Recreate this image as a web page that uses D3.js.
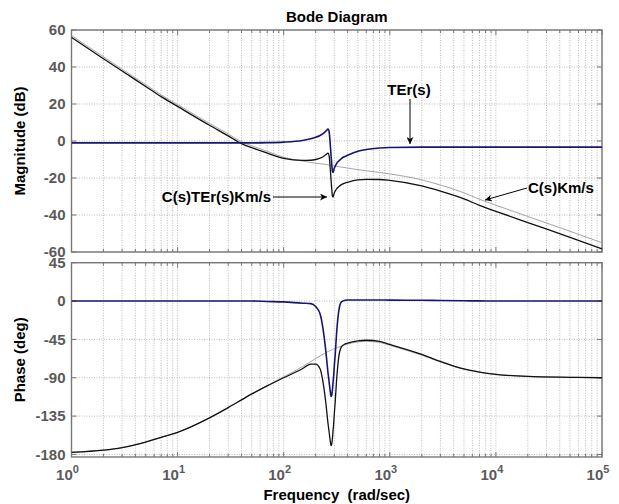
<!DOCTYPE html>
<html>
<head>
<meta charset="utf-8">
<script src="https://cdn.jsdelivr.net/npm/d3@7"></script>
<style>
  body { margin: 0; background: #fff; }
  text { font-family: "Liberation Sans", Arial, sans-serif; font-weight: bold; }
</style>
</head>
<body>
<script>
// frequency samples (rad/sec) shared by every series
var freq = [1, 2, 3, 5, 7, 10, 20, 30, 40, 50, 70, 100, 150, 180, 200, 220, 235, 250, 262, 268, 272, 276, 280, 284, 288, 292, 296, 300, 305, 315, 330, 350, 380, 400, 500, 600, 800, 1000, 2000, 3000, 5000, 7000, 10000, 20000, 50000, 100000];

// magnitude (dB)
var magCKm = [57, 45.5, 38.8, 30.5, 25, 19.7, 9.5, 3.8, -0.4, -2.6, -5.6, -8.8, -10.8, -11.6, -12, -12.3, -12.5, -12.7, -12.9, -13, -13.05, -13.1, -13.2, -13.25, -13.3, -13.35, -13.4, -13.5, -13.55, -13.7, -13.9, -14.1, -14.4, -14.6, -15.5, -16.1, -17, -17.8, -21, -23.8, -28, -31.5, -34.7, -40.8, -48.8, -55];
var magTEr = [-1, -1, -1, -1, -1, -1, -1, -1, -1, -1, -0.9, -0.6, 0.3, 1.2, 2, 3, 4, 5.3, 6.4, 5, 1.5, -3.5, -8.5, -13, -16.5, -17, -15.8, -14.6, -13.7, -12.2, -10.8, -9.5, -8.3, -7.7, -5.5, -4.6, -3.8, -3.5, -3.3, -3.3, -3.3, -3.3, -3.3, -3.3, -3.3, -3.3];
var magCTErKm = [56, 44.5, 37.8, 29.5, 24, 18.7, 8.5, 2.8, -1.4, -3.6, -6.5, -9.4, -10.5, -10.4, -10, -9.3, -8.5, -7.4, -6.5, -8, -11.55, -16.6, -21.7, -26.25, -29.8, -30.35, -29.2, -28.1, -27.25, -25.9, -24.7, -23.6, -22.7, -22.3, -21, -20.7, -20.8, -21.3, -24.3, -27.1, -31.3, -34.8, -38, -44.1, -52.1, -58.3];

// phase (deg)
var phCKm = [-177.5, -175, -172, -165.5, -160, -154, -137, -125, -116, -109, -99, -89, -77, -71, -67.5, -64.5, -62.5, -60.5, -59.3, -58.7, -58.3, -58, -57.6, -57.3, -57, -56.7, -56.4, -56, -55.6, -55, -54, -52.8, -51.3, -50.5, -48, -47.3, -48.5, -52, -63.5, -71.5, -80, -83.5, -86, -88.5, -89.5, -90];
var phTEr = [0, 0, 0, 0, 0, 0, 0, 0, 0, 0, -0.5, -1, -2.5, -3, -6.5, -15, -33, -60, -85, -95, -102, -108, -112, -110, -104, -95, -87, -76, -65, -38, -12, -1, 1, 1.2, 1.3, 1.3, 1.2, 1.1, 0.9, 0.6, 0.3, 0.2, 0, 0, 0, 0];
var phCTErKm = [-177.5, -175, -172, -165.5, -160, -154, -137, -125, -116, -109, -99.5, -90, -79.5, -74, -74, -79.5, -95.5, -120.5, -144.3, -153.7, -160.3, -166, -169.6, -167.3, -161, -151.7, -143.4, -132, -120.6, -93, -66, -53.8, -50.3, -49.3, -46.7, -46, -47.3, -50.9, -62.6, -70.9, -79.7, -83.3, -86, -88.5, -89.5, -90];

var magTicks = [-60, -40, -20, 0, 20, 40, 60];
var phaseTicks = [-180, -135, -90, -45, 0, 45];
var decades = [1, 10, 100, 1000, 10000, 100000];
var decadeExp = ["0", "1", "2", "3", "4", "5"];

var svgWidth = 619;
var svgHeight = 504;

var svg = d3.select("body")
  .append("svg")
  .attr("width", svgWidth)
  .attr("height", svgHeight);

var defs = svg.append("defs");
defs.append("marker")
  .attr("id", "arrow")
  .attr("viewBox", "0 0 10 10")
  .attr("refX", 10)
  .attr("refY", 5)
  .attr("markerWidth", 9)
  .attr("markerHeight", 7)
  .attr("markerUnits", "userSpaceOnUse")
  .attr("orient", "auto")
  .append("path")
  .attr("d", "M0,0 L10,5 L0,10 L3,5 Z")
  .attr("fill", "#000");

var xLeft = 71.5, xRight = 602;
var x = d3.scaleLog().domain([1, 1e5]).range([xLeft, xRight]);
var yMag = d3.scaleLinear().domain([-60, 60]).range([252, 30]);
var yPh = d3.scaleLinear().domain([-183, 45]).range([457, 262.7]);

var minorTicks = x.ticks(); // 1..9 per decade

function panel(id, y, ticks, top, bottom) {
  var g = svg.append("g");

  // grid
  g.selectAll(".vgrid")
    .data(minorTicks)
    .enter()
    .append("line")
    .attr("x1", function(d) { return x(d); })
    .attr("x2", function(d) { return x(d); })
    .attr("y1", top)
    .attr("y2", bottom)
    .attr("stroke", "#a8a8a8")
    .attr("stroke-width", 0.8)
    .attr("stroke-dasharray", "1,1.5");

  g.selectAll(".hgrid")
    .data(ticks)
    .enter()
    .append("line")
    .attr("x1", xLeft)
    .attr("x2", xRight)
    .attr("y1", function(d) { return y(d); })
    .attr("y2", function(d) { return y(d); })
    .attr("stroke", "#a8a8a8")
    .attr("stroke-width", 0.8)
    .attr("stroke-dasharray", "1,1.5");

  // inward ticks
  minorTicks.forEach(function(d) {
    var len = decades.indexOf(d) >= 0 ? 5 : 3;
    g.append("line").attr("x1", x(d)).attr("x2", x(d)).attr("y1", bottom).attr("y2", bottom - len)
      .attr("stroke", "#777").attr("stroke-width", 1);
    g.append("line").attr("x1", x(d)).attr("x2", x(d)).attr("y1", top).attr("y2", top + len)
      .attr("stroke", "#777").attr("stroke-width", 1);
  });
  ticks.forEach(function(d) {
    g.append("line").attr("x1", xLeft).attr("x2", xLeft + 5).attr("y1", y(d)).attr("y2", y(d))
      .attr("stroke", "#777").attr("stroke-width", 1);
    g.append("line").attr("x1", xRight).attr("x2", xRight - 5).attr("y1", y(d)).attr("y2", y(d))
      .attr("stroke", "#777").attr("stroke-width", 1);
  });

  // box
  g.append("rect")
    .attr("x", xLeft)
    .attr("y", top)
    .attr("width", xRight - xLeft)
    .attr("height", bottom - top)
    .attr("fill", "none")
    .attr("stroke", "#777")
    .attr("stroke-width", 1.4);

  // y tick labels
  g.selectAll(".ylab")
    .data(ticks)
    .enter()
    .append("text")
    .attr("x", xLeft - 6)
    .attr("y", function(d) { return y(d); })
    .attr("dy", "0.36em")
    .attr("text-anchor", "end")
    .attr("font-size", "15px")
    .attr("fill", "#5a5a5a")
    .text(function(d) { return d; });

  svg.append("clipPath")
    .attr("id", id)
    .append("rect")
    .attr("x", xLeft)
    .attr("y", top)
    .attr("width", xRight - xLeft)
    .attr("height", bottom - top);
}

panel("clipMag", yMag, magTicks, 30, 252);
panel("clipPh", yPh, phaseTicks, 262.7, 457);

function drawCurve(values, y, clip, color, width) {
  var line = d3.line()
    .x(function(d, i) { return x(freq[i]); })
    .y(function(d) { return y(d); })
    .curve(d3.curveMonotoneX);
  svg.append("path")
    .datum(values)
    .attr("d", line)
    .attr("clip-path", "url(#" + clip + ")")
    .attr("fill", "none")
    .attr("stroke", color)
    .attr("stroke-width", width);
}

drawCurve(magCKm, yMag, "clipMag", "#9a9a9a", 0.9);
drawCurve(magCTErKm, yMag, "clipMag", "#111", 1.3);
drawCurve(magTEr, yMag, "clipMag", "#16166e", 1.6);

drawCurve(phCKm, yPh, "clipPh", "#9a9a9a", 0.9);
drawCurve(phCTErKm, yPh, "clipPh", "#111", 1.3);
drawCurve(phTEr, yPh, "clipPh", "#16166e", 1.6);

// x tick labels 10^n
var xl = svg.selectAll(".xlab")
  .data(decades)
  .enter()
  .append("text")
  .attr("x", function(d) { return x(d) - 4; })
  .attr("y", 480)
  .attr("text-anchor", "middle")
  .attr("font-size", "15px")
  .attr("fill", "#5a5a5a");
xl.append("tspan").text("10");
xl.append("tspan")
  .attr("dy", -7)
  .attr("font-size", "11px")
  .text(function(d, i) { return decadeExp[i]; });

// titles
svg.append("text")
  .attr("x", (xLeft + xRight) / 2)
  .attr("y", 22)
  .attr("text-anchor", "middle")
  .attr("font-size", "15px")
  .text("Bode Diagram");

svg.append("text")
  .attr("x", (xLeft + xRight) / 2)
  .attr("y", 500)
  .attr("text-anchor", "middle")
  .attr("font-size", "15px")
  .attr("xml:space", "preserve")
  .style("white-space", "pre")
  .text("Frequency  (rad/sec)");

svg.append("text")
  .attr("transform", "translate(25," + (30 + 252) / 2 + ") rotate(-90)")
  .attr("text-anchor", "middle")
  .attr("font-size", "15px")
  .text("Magnitude (dB)");

svg.append("text")
  .attr("transform", "translate(25," + (262.7 + 457) / 2 + ") rotate(-90)")
  .attr("text-anchor", "middle")
  .attr("font-size", "15px")
  .text("Phase (deg)");

// annotations
function note(label, tx, ty, anchor, x1, y1, x2, y2) {
  svg.append("text")
    .attr("x", tx)
    .attr("y", ty)
    .attr("text-anchor", anchor)
    .attr("font-size", "15px")
    .attr("fill", "#000")
    .text(label);
  svg.append("line")
    .attr("x1", x1).attr("y1", y1)
    .attr("x2", x2).attr("y2", y2)
    .attr("stroke", "#000")
    .attr("stroke-width", 1)
    .attr("marker-end", "url(#arrow)");
}

note("TEr(s)", 409, 95, "middle", 410, 99, 410, 144);
note("C(s)TEr(s)Km/s", 271, 202, "end", 273, 197, 327, 197);
note("C(s)Km/s", 528, 193, "start", 527, 188, 485, 200);
</script>
</body>
</html>
